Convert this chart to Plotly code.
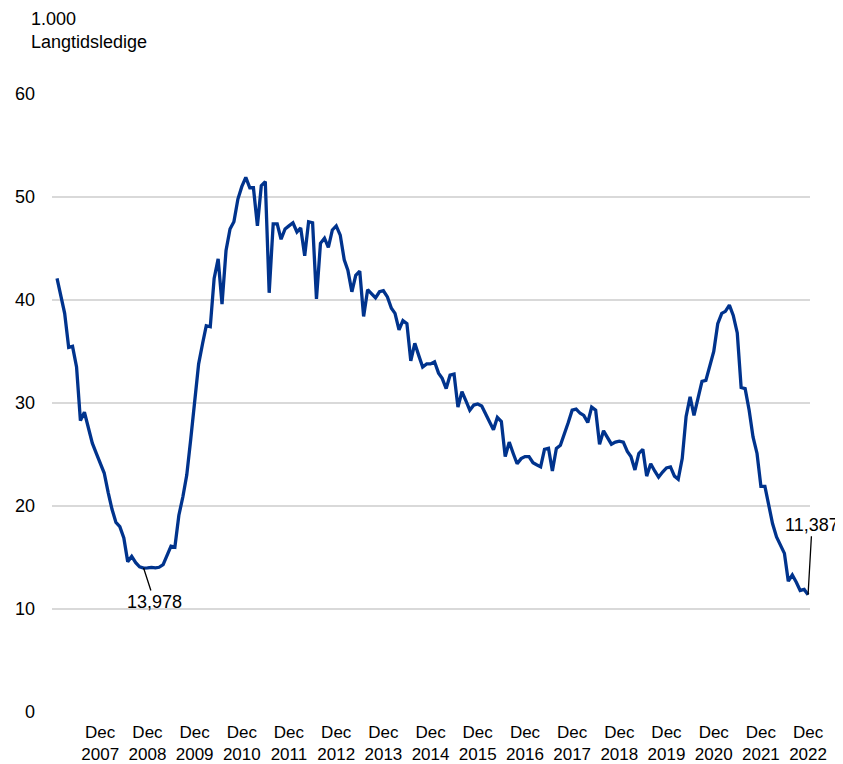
import pandas as pd
import plotly.graph_objects as go

# Monthly long-term unemployed (1.000 persons), Jan 2007 - Dec 2022
start_month = "2007-01-01"
values = [
    42.1, 40.2, 38.7, 35.4, 35.5, 33.5, 28.3, 29.1, 27.5, 26.1, 25.1, 24.1,   # 2007
    23.2, 21.3, 19.7, 18.4, 18.0, 16.9, 14.6, 15.1, 14.5, 14.1, 13.978, 14.0,  # 2008
    14.05, 14.0, 14.05, 14.3, 15.2, 16.1, 16.0, 19.1, 20.9, 23.0, 26.5, 30.0,  # 2009
    33.8, 35.8, 37.5, 37.4, 42.1, 44.0, 39.6, 44.8, 46.9, 47.6, 49.8, 51.0,   # 2010
    51.9, 50.9, 50.9, 47.2, 51.1, 51.5, 40.7, 47.4, 47.4, 45.9, 46.9, 47.2,   # 2011
    47.5, 46.6, 47.0, 44.3, 47.6, 47.5, 40.1, 45.5, 46.0, 45.1, 46.8, 47.2,   # 2012
    46.3, 43.9, 42.9, 40.8, 42.4, 42.8, 38.4, 41.0, 40.6, 40.2, 40.8, 40.9,   # 2013
    40.3, 39.2, 38.7, 37.1, 38.0, 37.7, 34.1, 35.8, 34.6, 33.5, 33.8, 33.8,   # 2014
    34.0, 32.9, 32.4, 31.4, 32.7, 32.8, 29.6, 31.1, 30.2, 29.3, 29.8, 29.9,   # 2015
    29.7, 28.9, 28.2, 27.4, 28.6, 28.2, 24.8, 26.2, 25.1, 24.1, 24.6, 24.8,   # 2016
    24.8, 24.2, 24.0, 23.8, 25.5, 25.6, 23.4, 25.6, 25.9, 26.9, 28.1, 29.3,   # 2017
    29.4, 29.0, 28.8, 28.1, 29.6, 29.3, 26.0, 27.3, 26.6, 26.0, 26.2, 26.3,   # 2018
    26.2, 25.3, 24.8, 23.5, 25.1, 25.5, 22.9, 24.1, 23.4, 22.8, 23.3, 23.7,   # 2019
    23.8, 22.9, 22.6, 24.6, 28.7, 30.6, 28.8, 30.6, 32.1, 32.2, 33.7, 35.0,   # 2020
    37.7, 38.7, 38.9, 39.5, 38.5, 36.8, 31.5, 31.4, 29.3, 26.7, 25.1, 21.9,   # 2021
    21.9, 20.1, 18.3, 17.0, 16.2, 15.4, 12.7, 13.3, 12.6, 11.8, 11.9, 11.387, # 2022
]
dates = pd.date_range(start_month, periods=len(values), freq="MS")

tick_years = list(range(2007, 2023))
tick_dates = [f"{y}-12-01" for y in tick_years]
tick_text = [f"Dec<br>{y}" for y in tick_years]

y_ticks = [0, 10, 20, 30, 40, 50, 60]

label_min_date = "2008-11-01"
label_min_value = 13.978
label_last_date = "2022-12-01"
label_last_value = 11.387

axis_title_lines = ["1.000", "Langtidsledige"]

FONT = "Arial, 'Liberation Sans', sans-serif"
LINE_COLOR = "#00338D"
GRID = "#d9d9d9"

fig = go.Figure()
fig.add_trace(go.Scatter(
    x=dates, y=values, mode="lines",
    line=dict(color=LINE_COLOR, width=3.3),
    hoverinfo="skip", showlegend=False,
))

def fmt(v):
    return f"{int(round(v * 1000)):,}"

fig.add_annotation(
    x=label_min_date, y=label_min_value, xref="x", yref="y",
    text=fmt(label_min_value), showarrow=True, arrowhead=0, arrowwidth=1.3,
    arrowcolor="#000000", ax=11, ay=34,
    font=dict(family=FONT, size=18, color="#000000"),
)
fig.add_annotation(
    x=label_last_date, y=label_last_value, xref="x", yref="y",
    text=fmt(label_last_value), showarrow=True, arrowhead=0, arrowwidth=1.3,
    arrowcolor="#000000", ax=4, ay=-70,
    font=dict(family=FONT, size=18, color="#000000"),
)
fig.add_annotation(
    x=-0.031, y=1.141, xref="paper", yref="paper",
    xanchor="left", yanchor="top", align="left", showarrow=False,
    text="<br>".join(axis_title_lines),
    font=dict(family=FONT, size=18, color="#000000"),
)

# page body adds an 8px offset, so the figure is sized to fit the window
fig.update_layout(
    width=835, height=756,
    margin=dict(l=44, r=33, t=86, b=52, autoexpand=False),
    paper_bgcolor="white", plot_bgcolor="white",
    font=dict(family=FONT, size=18, color="#000000"),
)
fig.update_xaxes(
    range=["2006-11-23", "2022-12-16"],
    tickmode="array", tickvals=tick_dates, ticktext=tick_text,
    showgrid=False, showline=False, zeroline=False, ticks="",
    ticklabelstandoff=8, automargin=False,
    tickfont=dict(family=FONT, size=17, color="#000000"),
)
fig.update_yaxes(
    range=[0, 60], tickmode="array", tickvals=y_ticks,
    showgrid=True, gridcolor=GRID, gridwidth=1.5,
    zeroline=False, showline=False, ticks="",
    ticklabelstandoff=16, automargin=False,
    tickfont=dict(family=FONT, size=18, color="#000000"),
)

fig.write_html("out.html")
